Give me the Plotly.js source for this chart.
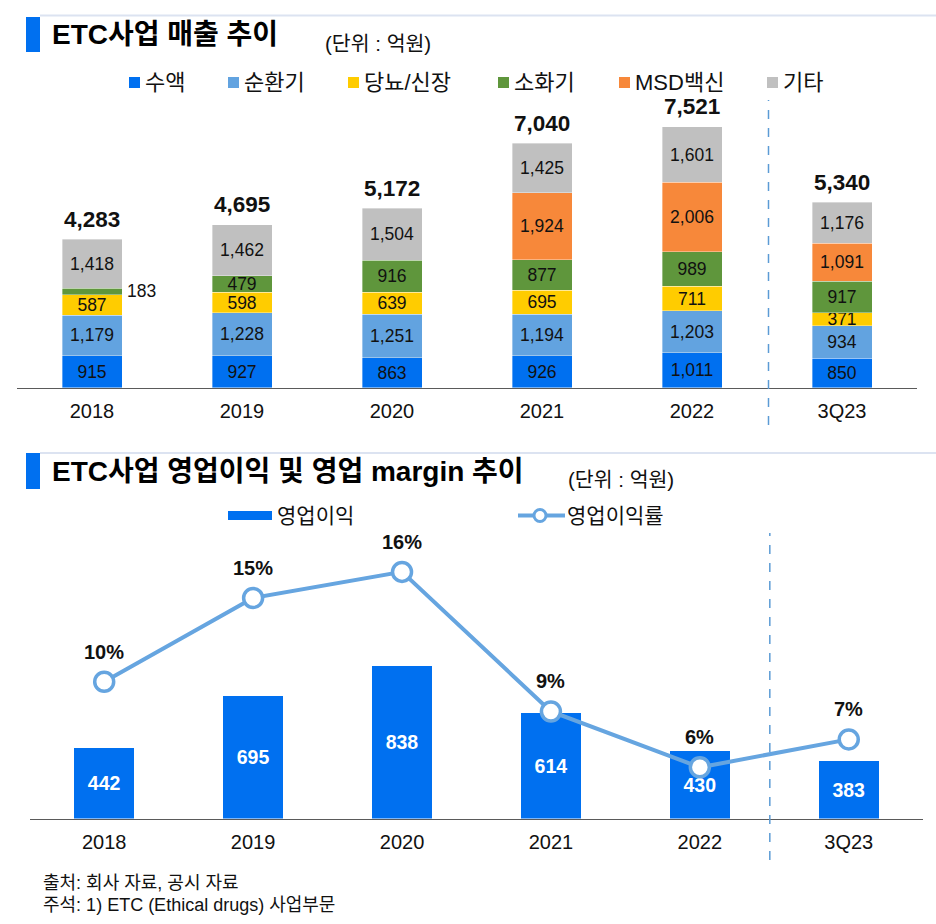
<!DOCTYPE html>
<html><head><meta charset="utf-8">
<script src="https://cdn.plot.ly/plotly-3.0.1.min.js"></script>
<style>html,body{margin:0;padding:0;background:#fff}</style>
</head><body><div id="chart" style="width:936px;height:924px"></div>
<script>
// ---------- DATA ----------
const categories = ['2018', '2019', '2020', '2021', '2022', '3Q23'];
const seriesNames = ['수액', '순환기', '당뇨/신장', '소화기', 'MSD백신', '기타'];
const salesFluids    = [915, 927, 863, 926, 1011, 850];
const salesCardio    = [1179, 1228, 1251, 1194, 1203, 934];
const salesDiabetes  = [587, 598, 639, 695, 711, 371];
const salesDigestive = [183, 479, 916, 877, 989, 917];
const salesMsd       = [null, null, null, 1924, 2006, 1091];
const salesOther     = [1418, 1462, 1504, 1425, 1601, 1176];
const salesTotal     = [4283, 4695, 5172, 7040, 7521, 5340];
const opProfit       = [442, 695, 838, 614, 430, 383];
const opMargin       = [10.3, 14.8, 16.2, 8.7, 5.7, 7.2];
const opMarginLabels = ['10%', '15%', '16%', '9%', '6%', '7%'];
const legend2Names   = ['영업이익', '영업이익률'];

// ---------- STYLE ----------
const W = 936, H = 924;
const px = x => x / W, py = y => 1 - y / H;
const NUM = 'Liberation Sans, Arial, Noto Sans CJK KR, sans-serif';
const KR = 'Liberation Sans, Noto Sans CJK KR, sans-serif';
const colors = ['#0070F0', '#62A3E0', '#FFCC00', '#5F963C', '#F7883A', '#C0C0C0'];
const BAR2 = '#0070F0', LINE = '#66A5E0', DASH = '#5B9BD5', AXIS = '#5a5a5a';
const fmt = v => v.toLocaleString('en-US');
const seriesData = [salesFluids, salesCardio, salesDiabetes, salesDigestive, salesMsd, salesOther];

const Y1MAX = 287.7 / 0.0347;
const Y2MIN = 104.2, Y2MAX = 1492.6;

const traces = [];
seriesData.forEach((arr, s) => {
  traces.push({
    type: 'bar', x: categories, y: arr, name: seriesNames[s],
    xaxis: 'x', yaxis: 'y', width: 0.4,
    marker: {color: colors[s], line: {color: 'rgba(255,255,255,0.6)', width: 0.6}},
    text: arr.map((v, i) => (v == null || (s === 3 && i === 0)) ? '' : fmt(v)),
    textposition: 'inside', insidetextanchor: 'middle', constraintext: 'none',
    textfont: {family: NUM, size: 17.5, color: '#111'},
    hoverinfo: 'skip', showlegend: false
  });
});
traces.push({
  type: 'bar', x: categories, y: opProfit.map(v => v - Y2MIN), base: Y2MIN,
  xaxis: 'x2', yaxis: 'y2', width: 0.4, name: legend2Names[0],
  marker: {color: BAR2},
  text: opProfit.map(fmt), textposition: 'inside', insidetextanchor: 'middle', constraintext: 'none',
  textfont: {family: NUM, size: 19.5, color: '#fff', weight: 'bold'},
  hoverinfo: 'skip', showlegend: false
});
traces.push({
  type: 'scatter', mode: 'lines+markers', x: categories, y: opMargin,
  xaxis: 'x2', yaxis: 'y3', name: legend2Names[1],
  line: {color: LINE, width: 4},
  marker: {size: 19, color: '#fff', line: {color: LINE, width: 3.5}},
  hoverinfo: 'skip', showlegend: false
});

const annotations = [];
const shapes = [];
// totals
salesTotal.forEach((t, i) => annotations.push({
  xref: 'x', yref: 'y', x: i, y: t, yanchor: 'middle', yshift: 20,
  text: '<b>' + fmt(t) + '</b>', showarrow: false, font: {family: NUM, size: 22.5, color: '#111'}
}));
// outside label for small digestive segment (2018)
annotations.push({
  xref: 'x', yref: 'y', x: 0,
  y: salesFluids[0] + salesCardio[0] + salesDiabetes[0] + salesDigestive[0] / 2,
  xanchor: 'left', xshift: 33, yanchor: 'middle', showarrow: false,
  text: fmt(salesDigestive[0]), font: {family: NUM, size: 17.5, color: '#111'}
});
// margin labels
opMargin.forEach((m, i) => annotations.push({
  xref: 'x2', yref: 'y3', x: i, y: m, yanchor: 'middle', yshift: 30,
  text: '<b>' + opMarginLabels[i] + '</b>', showarrow: false, font: {family: NUM, size: 20, color: '#111'}
}));

// titles
function titleBlock(barY0, barY1, lineY, text, textY, unitX, unitY) {
  shapes.push({type: 'line', xref: 'paper', yref: 'paper', x0: px(40), x1: 1, y0: py(lineY), y1: py(lineY),
    line: {color: '#DCE3F1', width: 2}});
  shapes.push({type: 'rect', xref: 'paper', yref: 'paper', x0: px(26), x1: px(40), y0: py(barY1), y1: py(barY0),
    fillcolor: '#0070F0', line: {width: 0}});
  annotations.push({xref: 'paper', yref: 'paper', x: px(50), y: py(textY), xanchor: 'left', yanchor: 'middle',
    text: '<b>' + text + '</b>', showarrow: false, font: {family: KR, size: 28, color: '#000'}});
  annotations.push({xref: 'paper', yref: 'paper', x: px(unitX), y: py(unitY), xanchor: 'left', yanchor: 'middle',
    text: '(단위 : 억원)', showarrow: false, font: {family: KR, size: 20.5, color: '#111'}});
}
titleBlock(17, 52, 15.5, 'ETC사업 매출 추이', 35, 323, 43);
titleBlock(453, 489, 453, 'ETC사업 영업이익 및 영업 margin 추이', 471, 566, 480);

// top legend
const legX = [129, 228, 348, 498, 619, 767];
seriesNames.forEach((n, s) => {
  shapes.push({type: 'rect', xref: 'paper', yref: 'paper', x0: px(legX[s]), x1: px(legX[s] + 11),
    y0: py(88), y1: py(77), fillcolor: colors[s], line: {width: 0}});
  annotations.push({xref: 'paper', yref: 'paper', x: px(legX[s] + 14), y: py(82.5), xanchor: 'left', yanchor: 'middle',
    text: n, showarrow: false, font: {family: KR, size: 22, color: '#111'}});
});
// bottom legend
shapes.push({type: 'rect', xref: 'paper', yref: 'paper', x0: px(228), x1: px(272), y0: py(520), y1: py(511),
  fillcolor: BAR2, line: {width: 0}});
annotations.push({xref: 'paper', yref: 'paper', x: px(275), y: py(515.5), xanchor: 'left', yanchor: 'middle',
  text: legend2Names[0], showarrow: false, font: {family: KR, size: 21, color: '#111'}});
shapes.push({type: 'line', xref: 'paper', yref: 'paper', x0: px(518), x1: px(565), y0: py(515.5), y1: py(515.5),
  line: {color: LINE, width: 4}});
shapes.push({type: 'circle', xref: 'paper', yref: 'paper', x0: px(534), x1: px(546), y0: py(521.5), y1: py(509.5),
  fillcolor: '#fff', line: {color: LINE, width: 3}});
annotations.push({xref: 'paper', yref: 'paper', x: px(565), y: py(515.5), xanchor: 'left', yanchor: 'middle',
  text: legend2Names[1], showarrow: false, font: {family: KR, size: 21, color: '#111'}});

// dashed separators
shapes.push({type: 'line', xref: 'x', yref: 'paper', x0: 4.51, x1: 4.51, y0: py(425), y1: py(100),
  line: {color: DASH, width: 1.5, dash: 'dash'}});
shapes.push({type: 'line', xref: 'x2', yref: 'paper', x0: 4.47, x1: 4.47, y0: py(860), y1: py(533),
  line: {color: DASH, width: 1.5, dash: 'dash'}});

// footnotes
annotations.push({xref: 'paper', yref: 'paper', x: px(41), y: py(883), xanchor: 'left', yanchor: 'middle',
  text: '출처: 회사 자료, 공시 자료', showarrow: false, font: {family: KR, size: 18, color: '#111'}});
annotations.push({xref: 'paper', yref: 'paper', x: px(41), y: py(905), xanchor: 'left', yanchor: 'middle',
  text: '주석: 1) ETC (Ethical drugs) 사업부문', showarrow: false, font: {family: KR, size: 18, color: '#111'}});

const xcommon = {type: 'category', range: [-0.5, 5.5], showline: true, linecolor: AXIS, linewidth: 1.5,
  ticks: '', showgrid: false, zeroline: false, ticklabelstandoff: 5,
  tickfont: {family: NUM, size: 20, color: '#111'}, fixedrange: true};

const layout = {
  width: W, height: H, margin: {l: 0, r: 0, t: 0, b: 0}, paper_bgcolor: '#fff', plot_bgcolor: 'rgba(0,0,0,0)',
  barmode: 'stack', showlegend: false,
  xaxis: Object.assign({}, xcommon, {domain: [px(17), px(917)], anchor: 'y'}),
  yaxis: {domain: [py(387.7), py(100)], range: [0, Y1MAX], visible: false, fixedrange: true},
  xaxis2: Object.assign({}, xcommon, {domain: [px(29.75), px(923.2)], anchor: 'y2'}),
  yaxis2: {domain: [py(818.5), py(530)], range: [Y2MIN, Y2MAX], visible: false, anchor: 'x2', fixedrange: true},
  yaxis3: {overlaying: 'y2', range: [2.95, 18.45], visible: false, anchor: 'x2', fixedrange: true},
  annotations: annotations, shapes: shapes
};
Plotly.newPlot('chart', traces, layout, {displayModeBar: false, staticPlot: true});
</script></body></html>
